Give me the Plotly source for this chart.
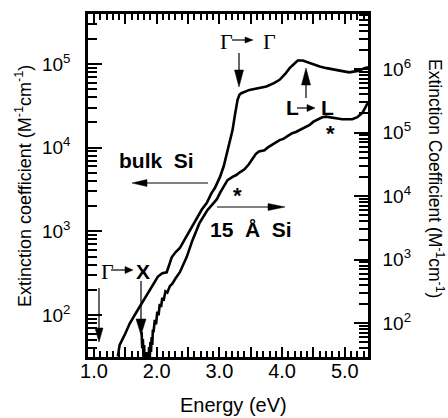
import plotly.graph_objects as go

# ---------------- data ----------------
bulk_energy = [1.38, 1.41, 1.50, 1.57, 1.65, 1.73, 1.80, 1.88, 1.95, 2.02, 2.09, 2.16, 2.20,
               2.24, 2.30, 2.37, 2.43, 2.49, 2.57, 2.64, 2.72, 2.80, 2.87, 2.93, 3.01, 3.07,
               3.14, 3.21, 3.25, 3.29, 3.32, 3.35, 3.48, 3.60, 3.75, 3.87, 3.96, 4.05, 4.12,
               4.19, 4.25, 4.33, 4.40, 4.49, 4.60, 4.71, 4.82, 4.92, 5.07, 5.23, 5.31, 5.37]
bulk_ext = [32, 44, 60, 79, 100, 126, 158, 200, 240, 288, 316, 324, 398,
            490, 562, 631, 759, 912, 1150, 1480, 1820, 2190, 2820, 3310, 4470, 6030,
            9550, 16200, 25100, 37200, 42700, 44700, 49000, 51300, 53700, 58900, 64600, 75900, 89100,
            100000, 110000, 110000, 105000, 100000, 93300, 89100, 85100, 83200, 79400, 83200, 89100, 91200]

si15_energy = [1.76, 1.77, 1.78, 1.79, 1.80, 1.81, 1.82, 1.83, 1.84, 1.85, 1.86, 1.87, 1.88,
               1.89, 1.90, 1.91, 1.92, 1.93, 1.94, 1.95, 1.97, 1.99, 2.01, 2.03, 2.05, 2.07,
               2.09, 2.11, 2.14, 2.17, 2.21, 2.25, 2.30, 2.37, 2.48, 2.57, 2.68, 2.81, 2.90,
               2.96, 3.01, 3.07, 3.13, 3.21, 3.27, 3.32, 3.40, 3.47, 3.53, 3.58, 3.63, 3.72,
               3.78, 3.83, 3.90, 3.96, 4.02, 4.07, 4.16, 4.22, 4.28, 4.36, 4.44, 4.50, 4.55,
               4.64, 4.70, 4.76, 4.87, 4.96, 5.05, 5.12, 5.20, 5.28, 5.37]
si15_ext = [72, 40, 56, 28, 45, 22, 35, 20, 32, 22, 35, 25, 42,
            28, 50, 35, 60, 45, 79, 71, 112, 95, 151, 132, 200, 178,
            251, 224, 316, 302, 380, 417, 501, 631, 1100, 2000, 3700, 6000, 7600,
            8900, 11200, 14100, 17800, 20000, 21400, 23400, 26300, 31600, 38000, 45700, 50100, 52500,
            58900, 63100, 69200, 75900, 79400, 85100, 97700, 102000, 110000, 120000, 132000, 148000, 158000,
            174000, 178000, 174000, 170000, 162000, 162000, 162000, 174000, 204000, 295000]

x_tickvals = [1.0, 1.5, 2.0, 2.5, 3.0, 3.5, 4.0, 4.5, 5.0]
x_ticktext = ["1.0", "", "2.0", "", "3.0", "", "4.0", "", "5.0"]
yl_tickvals = [1e2, 1e3, 1e4, 1e5]
yl_ticktext = ["10<sup>2</sup>", "10<sup>3</sup>", "10<sup>4</sup>", "10<sup>5</sup>"]
yr_tickvals = [1e2, 1e3, 1e4, 1e5, 1e6]
yr_ticktext = ["10<sup>2</sup>", "10<sup>3</sup>", "10<sup>4</sup>", "10<sup>5</sup>", "10<sup>6</sup>"]

# ---------------- layout geometry ----------------
W, H = 448, 418
L, R, T, B = 88, 368, 14, 357
PW, PH = R - L, B - T
SANS = "Liberation Sans"
SERIF = "Liberation Serif"
X_RANGE = [0.905, 5.37]
YL_RANGE = [1.498, 5.597]   # log10
YR_RANGE = [1.465, 6.866]   # log10


def px(x):
    return (x - L) / PW


def py(y):
    return (B - y) / PH


fig = go.Figure()
fig.add_trace(go.Scatter(x=bulk_energy, y=bulk_ext, mode="lines",
                         line=dict(color="black", width=2.6), yaxis="y", showlegend=False,
                         hoverinfo="skip"))
fig.add_trace(go.Scatter(x=si15_energy, y=si15_ext, mode="lines",
                         line=dict(color="black", width=2.6), yaxis="y2", showlegend=False,
                         hoverinfo="skip"))

shapes = []


def arrow(x0, y0, x1, y1, hl, hw, lw=1.2):
    dx, dy = x1 - x0, y1 - y0
    n = (dx * dx + dy * dy) ** 0.5
    ux, uy = dx / n, dy / n
    bx, by = x1 - ux * hl, y1 - uy * hl
    nx, ny = -uy, ux
    shapes.append(dict(type="line", xref="paper", yref="paper",
                       x0=px(x0), y0=py(y0), x1=px(bx + ux * 2), y1=py(by + uy * 2),
                       line=dict(color="black", width=lw)))
    p1 = (px(x1), py(y1))
    p2 = (px(bx + nx * hw / 2), py(by + ny * hw / 2))
    p3 = (px(bx - nx * hw / 2), py(by - ny * hw / 2))
    path = f"M {p1[0]},{p1[1]} L {p2[0]},{p2[1]} L {p3[0]},{p3[1]} Z"
    shapes.append(dict(type="path", xref="paper", yref="paper", path=path,
                       fillcolor="black", line=dict(color="black", width=0.5)))


arrow(232, 40, 253, 40, 8, 6)
arrow(239, 53, 239, 87, 17, 9)
arrow(306, 98, 306, 68, 17, 9)
arrow(297, 108, 315, 108, 8, 7)
arrow(208, 183, 132, 183, 15, 7)
arrow(217, 207, 285, 207, 17, 7)
arrow(111, 270, 133, 270, 8, 7)
arrow(99, 288, 99, 342, 14, 8)
arrow(141, 281, 141, 335, 16, 10)

ann = []


def text(x, y, s, size=21, family=SANS, bold=False, angle=0):
    ann.append(dict(x=px(x), y=py(y), xref="paper", yref="paper", text=(f"<b>{s}</b>" if bold else s),
                    showarrow=False, xanchor="center", yanchor="middle", textangle=angle,
                    font=dict(family=family, size=size, color="black")))


text(226, 42, "Γ", family=SERIF, size=22)
text(269, 42, "Γ", family=SERIF, size=22)
text(292, 107, "L", bold=True)
text(327, 107, "L", bold=True)
text(156, 160, "bulk  Si", bold=True)
text(251, 230, "15  Å  Si", bold=True)
text(237, 196, "*", bold=True, size=22)
text(330, 133, "*", bold=True, size=22)
text(107, 271, "Γ", family=SERIF, size=22)
text(143, 271, "X", bold=True)
text(233, 405, "Energy (eV)", size=20)
text(23, 186, "Extinction coefficient (M<sup>-1</sup>cm<sup>-1</sup>)", size=18, angle=-90)
text(436, 178, "Extinction Coefficient (M<sup>-1</sup>cm<sup>-1</sup>)", size=17.5, angle=90)

fig.update_layout(
    width=W, height=H,
    margin=dict(l=L, r=W - R, t=T, b=H - B),
    paper_bgcolor="white", plot_bgcolor="white",
    font=dict(family=SANS, color="black"),
    xaxis=dict(range=X_RANGE, tickmode="array", tickvals=x_tickvals, ticktext=x_ticktext,
               ticks="inside", ticklen=10, tickwidth=2.2, tickcolor="black", ticklabelstandoff=-6,
               minor=dict(dtick=0.1, ticks="inside", ticklen=6, tickwidth=1.8, tickcolor="black"),
               showline=True, linecolor="black", linewidth=2.5, mirror="ticks",
               showgrid=False, zeroline=False, layer="above traces",
               tickfont=dict(size=20, family=SANS)),
    yaxis=dict(type="log", range=YL_RANGE, tickmode="array", tickvals=yl_tickvals, ticktext=yl_ticktext,
               ticks="inside", ticklen=14, tickwidth=2.2, tickcolor="black", ticklabelstandoff=11,
               minor=dict(dtick="D1", ticks="inside", ticklen=9, tickwidth=1.8, tickcolor="black"),
               showline=True, linecolor="black", linewidth=2.5,
               showgrid=False, zeroline=False, layer="above traces",
               tickfont=dict(size=19, family=SANS)),
    yaxis2=dict(type="log", range=YR_RANGE, overlaying="y", side="right", anchor="x",
                tickmode="array", tickvals=yr_tickvals, ticktext=yr_ticktext,
                ticks="inside", ticklen=14, tickwidth=2.2, tickcolor="black", ticklabelstandoff=8,
                minor=dict(dtick="D1", ticks="inside", ticklen=9, tickwidth=1.8, tickcolor="black"),
                showline=True, linecolor="black", linewidth=2.5,
                showgrid=False, zeroline=False, layer="above traces",
                tickfont=dict(size=19, family=SANS)),
    shapes=shapes,
    annotations=ann,
)

fig.write_html("out.html")
